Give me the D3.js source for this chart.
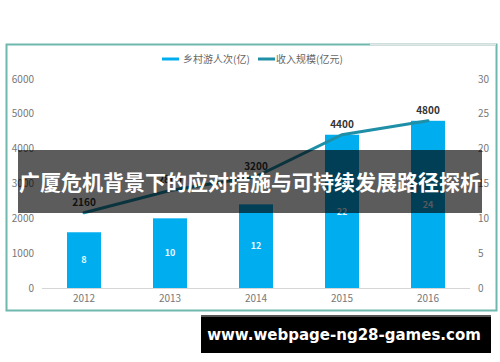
<!DOCTYPE html>
<html>
<head>
<meta charset="utf-8">
<script src="https://cdn.jsdelivr.net/npm/d3@7/dist/d3.min.js"></script>
<style>
  body { margin: 0; background: #fff; }
  svg { display: block; font-family: "Noto Sans CJK SC", "Noto Sans", sans-serif; }
</style>
</head>
<body>
<script>
// chart data
var years = ["2012", "2013", "2014", "2015", "2016"];
var visitors = [8, 10, 12, 22, 24];          // 乡村游人次(亿)
var revenue = [2160, 2800, 3200, 4400, 4800]; // 收入规模(亿元)
var leftTicks = [0, 1000, 2000, 3000, 4000, 5000, 6000];
var rightTicks = [0, 5, 10, 15, 20, 25, 30];
var seriesNames = ["乡村游人次(亿)", "收入规模(亿元)"];
var title = "广厦危机背景下的应对措施与可持续发展路径探析";
var site = "www.webpage-ng28-games.com";

var width = 500, height = 362;
var barColor = "#00aeef", lineColor = "#1f8fa8";

var svg = d3.select("body").append("svg")
    .attr("width", width)
    .attr("height", height);

// frame
svg.append("rect")
    .attr("x", 6.5).attr("y", 44.5)
    .attr("width", 490).attr("height", 266)
    .attr("fill", "#fff")
    .attr("stroke", "#6fb8ae")
    .attr("stroke-width", 2);
svg.append("line")
    .attr("x1", 370).attr("x2", 496)
    .attr("y1", 44.5).attr("y2", 44.5)
    .attr("stroke", "#e2e6e6").attr("stroke-width", 2);

var x = d3.scalePoint().domain(years).range([41, 471]).padding(0.5);
var yL = d3.scaleLinear().domain([0, 6000]).range([288, 79]);
var yR = d3.scaleLinear().domain([0, 30]).range([288, 79]);

// left axis labels
svg.append("g").selectAll("text")
    .data(leftTicks).enter().append("text")
    .attr("x", 34).attr("y", function (d) { return yL(d); })
    .attr("dy", "0.35em")
    .attr("text-anchor", "end")
    .attr("font-size", 10).attr("fill", "#777")
    .text(function (d) { return d; });

// right axis labels
svg.append("g").selectAll("text")
    .data(rightTicks).enter().append("text")
    .attr("x", 478).attr("y", function (d) { return yR(d); })
    .attr("dy", "0.35em")
    .attr("font-size", 10).attr("fill", "#777")
    .text(function (d) { return d; });

// baseline
svg.append("line")
    .attr("x1", 42).attr("x2", 470)
    .attr("y1", yL(0) + 0.5).attr("y2", yL(0) + 0.5)
    .attr("stroke", "#d6d6d6");

// x labels
svg.append("g").selectAll("text")
    .data(years).enter().append("text")
    .attr("x", function (d) { return x(d); })
    .attr("y", 298).attr("dy", "0.35em")
    .attr("text-anchor", "middle")
    .attr("font-size", 10).attr("fill", "#777")
    .text(function (d) { return d; });

// bars
var barW = 34;
svg.append("g").selectAll("rect")
    .data(visitors).enter().append("rect")
    .attr("x", function (d, i) { return x(years[i]) - barW / 2; })
    .attr("y", function (d) { return yR(d); })
    .attr("width", barW)
    .attr("height", function (d) { return yR(0) - yR(d); })
    .attr("fill", barColor);

svg.append("g").selectAll("text")
    .data(visitors).enter().append("text")
    .attr("x", function (d, i) { return x(years[i]); })
    .attr("y", function (d) { return (yR(d) + yR(0)) / 2; })
    .attr("dy", "0.35em")
    .attr("text-anchor", "middle")
    .attr("font-size", 9).attr("font-weight", "bold")
    .attr("fill", "#e8f7ff")
    .text(function (d) { return d; });

// line
var line = d3.line()
    .x(function (d, i) { return x(years[i]); })
    .y(function (d) { return yL(d); });
svg.append("path")
    .datum(revenue)
    .attr("d", line)
    .attr("fill", "none")
    .attr("stroke", lineColor)
    .attr("stroke-width", 3)
    .attr("stroke-linecap", "round");

svg.append("g").selectAll("text")
    .data(revenue).enter().append("text")
    .attr("x", function (d, i) { return x(years[i]); })
    .attr("y", function (d) { return yL(d) - 7; })
    .attr("text-anchor", "middle")
    .attr("font-size", 10).attr("font-weight", "bold")
    .attr("fill", "#333")
    .text(function (d) { return d; });

// legend
var legend = [
    {name: seriesNames[0], color: barColor, x1: 162, x2: 179, tx: 183},
    {name: seriesNames[1], color: lineColor, x1: 258, x2: 275, tx: 276}
];
var lg = svg.append("g").selectAll("g").data(legend).enter().append("g");
lg.append("line")
    .attr("x1", function (d) { return d.x1; })
    .attr("x2", function (d) { return d.x2; })
    .attr("y1", 59).attr("y2", 59)
    .attr("stroke", function (d) { return d.color; })
    .attr("stroke-width", 3);
lg.append("text")
    .attr("x", function (d) { return d.tx; })
    .attr("y", 59).attr("dy", "0.35em")
    .attr("font-size", 10).attr("fill", "#666")
    .text(function (d) { return d.name; });

// title banner overlay
svg.append("rect")
    .attr("x", 18).attr("y", 150)
    .attr("width", 464).attr("height", 63)
    .attr("fill", "#000").attr("fill-opacity", 0.64);
svg.append("text")
    .attr("x", 250).attr("y", 183)
    .attr("dy", "0.35em")
    .attr("text-anchor", "middle")
    .attr("font-size", 21).attr("font-weight", "bold")
    .attr("fill", "#fff")
    .text(title);

// site box
svg.append("rect")
    .attr("x", 201).attr("y", 315)
    .attr("width", 290).attr("height", 38)
    .attr("fill", "#000");
svg.append("rect")
    .attr("x", 201).attr("y", 315)
    .attr("width", 290).attr("height", 2)
    .attr("fill", "#555");
svg.append("text")
    .attr("x", 344).attr("y", 335)
    .attr("dy", "0.35em")
    .attr("text-anchor", "middle")
    .attr("font-family", "'DejaVu Sans', sans-serif")
    .attr("font-size", 15).attr("font-weight", "bold")
    .attr("fill", "#fff")
    .text(site);
</script>
</body>
</html>
